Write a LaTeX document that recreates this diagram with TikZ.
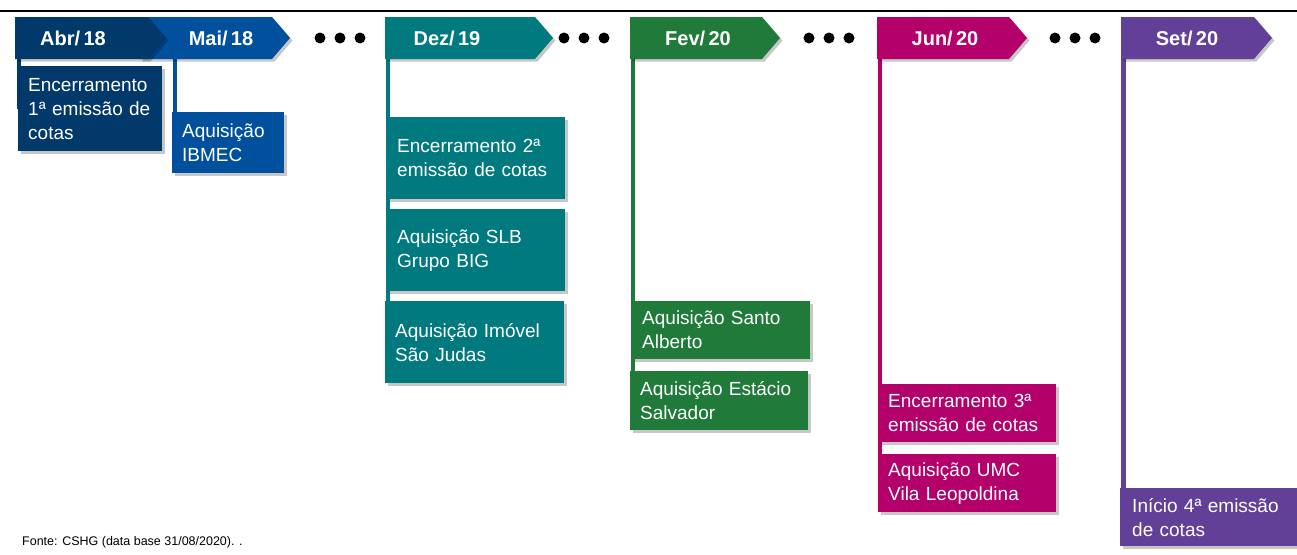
\documentclass[tikz,border=0pt]{standalone}
\usepackage{fontspec}
\setmainfont{Liberation Sans}
\usetikzlibrary{shadows,backgrounds}
\definecolor{cnavy}{RGB}{0,57,106}
\definecolor{cblue}{RGB}{0,80,158}
\definecolor{cteal}{RGB}{0,122,126}
\definecolor{cgreen}{RGB}{32,122,58}
\definecolor{cmag}{RGB}{180,0,106}
\definecolor{cpurp}{RGB}{99,64,152}
\newcommand\boxfont{\fontsize{19}{24}\selectfont}
\newcommand\labfont{\fontsize{20}{22}\selectfont\bfseries}
\tikzset{
  shad/.style={drop shadow={shadow xshift=2.5pt, shadow yshift=-2.5pt, opacity=.22, fill=black}},
  evbox/.style={fill=#1, text=white, anchor=north west, inner xsep=10pt, inner ysep=0pt, align=left, font=\boxfont, shad},
  lab/.style={text=white, font=\labfont, inner sep=0pt},
  stem/.style={line width=4.5pt, draw=#1},
  dot/.style={fill=black},
}
% #1 name, #2 left x, #3 corner x, #4 colour, #5 label x, #6 label
\newcommand\mychev[6]{%
  \fill[#4, shad] (#2,17) -- (#3,17) -- (#3+18,38) -- (#3,59) -- (#2,59) -- cycle;
  \node[lab] (#1) at (#5,38) {#6};
}
\begin{document}
\begin{tikzpicture}[x=1pt,y=-1pt]
\useasboundingbox (0,0) rectangle (1297,554);
\draw[line width=2.5pt] (0,11) -- (1297,11);

% stem start points
\coordinate (abrS) at (19,59);
\coordinate (maiS) at (175,59);
\coordinate (dezS) at (388,59);
\coordinate (fevS) at (633,59);
\coordinate (junS) at (880,59);
\coordinate (setS) at (1123.5,59);

% boxes
\path
  node[evbox=cnavy, minimum width=144pt, text width=124pt, minimum height=85pt] (abr1) at (18,66) {Encerramento\\1ª emissão de\\cotas}
  node[evbox=cblue, minimum width=112pt, text width=92pt, minimum height=61pt] (mai1) at (172,112) {Aquisição\\IBMEC}
  node[evbox=cteal, minimum width=178pt, text width=158pt, minimum height=82pt] (dez1) at (387,117) {Encerramento 2ª\\emissão de cotas}
  node[evbox=cteal, minimum width=178pt, text width=158pt, minimum height=82pt] (dez2) at (387,209) {Aquisição SLB\\Grupo BIG}
  node[evbox=cteal, minimum width=179pt, text width=159pt, minimum height=82pt] (dez3) at (385,301) {Aquisição Imóvel\\São Judas}
  node[evbox=cgreen, minimum width=178pt, text width=158pt, minimum height=58pt] (fev1) at (632,301) {Aquisição Santo\\Alberto}
  node[evbox=cgreen, minimum width=178pt, text width=158pt, minimum height=59pt] (fev2) at (630,371) {Aquisição Estácio\\Salvador}
  node[evbox=cmag, minimum width=178pt, text width=158pt, minimum height=58pt] (jun1) at (878,384) {Encerramento 3ª\\emissão de cotas}
  node[evbox=cmag, minimum width=178pt, text width=158pt, minimum height=58pt] (jun2) at (878,454) {Aquisição UMC\\Vila Leopoldina}
  node[evbox=cpurp, minimum width=177pt, text width=154pt, inner xsep=12pt, minimum height=58pt] (set1) at (1120,488) {Início 4ª emissão\\de cotas};

% stems behind boxes
\begin{scope}[on background layer]
  \draw[stem=cnavy] (abrS) -- (abrS |- abr1.center);
  \draw[stem=cblue] (maiS) -- (maiS |- mai1.center);
  \draw[stem=cteal] (dezS) -- (dezS |- dez3.center);
  \draw[stem=cgreen] (fevS) -- (fevS |- fev2.center);
  \draw[stem=cmag] (junS) -- (junS |- jun2.center);
  \draw[stem=cpurp] (setS) -- (setS |- set1.center);
\end{scope}

% chevrons
\mychev{mai}{140}{272}{cblue}{221}{Mai/\,18}
\mychev{abr}{15}{148}{cnavy}{73}{Abr/\,18}
\mychev{dez}{385}{535}{cteal}{447}{Dez/\,19}
\mychev{fev}{630}{762}{cgreen}{698}{Fev/\,20}
\mychev{jun}{877}{1009}{cmag}{945}{Jun/\,20}
\mychev{set}{1121}{1254}{cpurp}{1187}{Set/\,20}

% dots
\foreach \x in {320,340,360, 564,584,604, 809,829,849, 1055,1075,1095}
  \fill[dot] (\x,38) circle (5.5pt);

% source
\node[anchor=base west, font=\fontsize{12.5}{14}\selectfont, inner sep=0pt] (src) at (22,545) {Fonte: CSHG (data base 31/08/2020). .};
\end{tikzpicture}
\end{document}
